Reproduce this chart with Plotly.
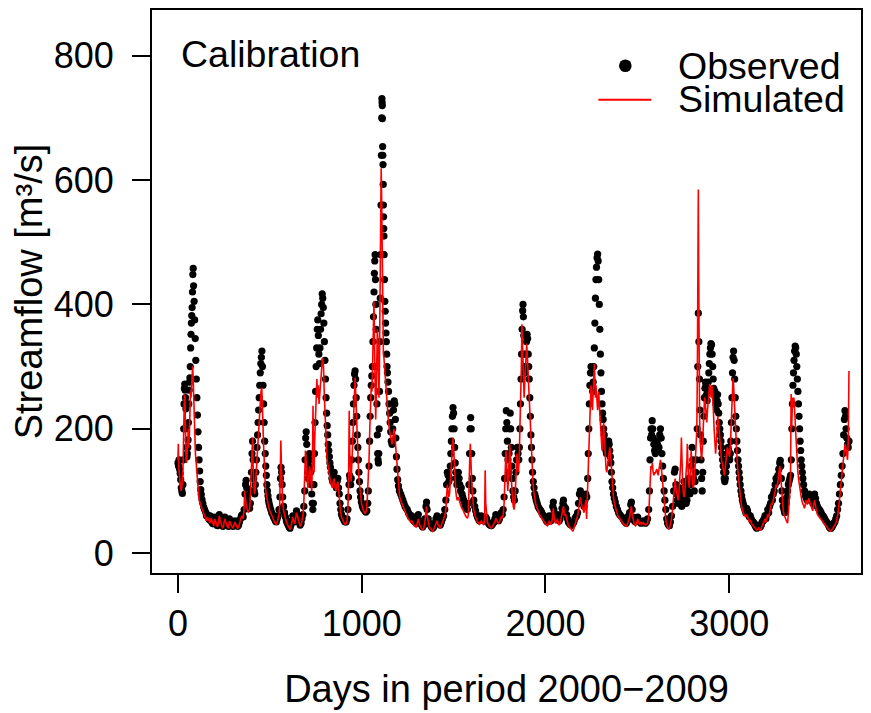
import plotly.graph_objects as go

# Observed daily streamflow (day index, m3/s)
observed = [
 (0,145),(3,140),(6,150),(9,135),(12,128),(15,118),(18,105),(21,100),(24,96),(27,110),(29,150),(31,200),(33,240),(35,265),(37,272),(39,262),(41,250),(43,232),(45,200),(47,170),(49,155),(51,160),(53,170),(55,182),(57,210),(59,240),(61,262),(63,275),(65,282),(67,300),(69,330),(71,352),(73,370),(75,382),(77,395),(79,420),(81,448),(83,458),(85,430),(88,405),(91,375),(94,345),(97,310),(100,280),(103,250),(106,222),(109,195),(112,170),(115,150),(118,132),(121,115),(124,102),(127,94),(131,86),
 (135,80),(140,74),(145,70),(150,66),(155,60),(160,62),(165,57),(170,54),(175,60),(180,52),(185,49),(190,47),(195,55),(200,58),(205,50),(210,46),(215,44),(220,50),(225,62),(230,55),(235,48),(240,45),(245,43),(250,50),(255,58),(260,52),(265,47),(270,45),(275,43),(280,55),(285,50),(290,47),(295,44),(300,43),(305,47),(310,52),(315,48),(320,45),(325,43),(330,45),(335,50),(340,55),(345,60),(350,62),(355,58),(360,70),
 (365,95),(368,110),(371,117),(374,105),(378,90),(382,80),(386,75),(390,72),(394,80),(397,100),(400,130),(403,160),(406,180),(409,150),(412,120),(415,100),(418,95),(421,110),(424,130),(427,150),(430,170),(433,190),(436,210),(439,230),(442,250),(445,270),(448,290),(451,305),(454,315),(457,325),(460,300),(463,270),(466,240),(469,210),(472,180),(475,160),(478,140),(481,125),(484,110),(487,100),(490,92),(493,85),(496,80),(500,75),(505,70),(510,65),
 (515,62),(520,58),(525,55),(530,52),(535,50),(540,55),(545,60),(550,70),(555,90),(558,120),(561,138),(564,130),(567,110),(570,90),(575,75),(580,65),(585,58),(590,52),(595,48),(600,45),(605,42),(610,40),(615,45),(620,52),(625,60),(630,55),(635,50),(640,60),(645,68),(650,62),(655,55),(660,50),(665,45),(670,48),(675,55),(680,62),(685,75),
 (690,100),(692,150),(695,185),(698,195),(701,175),(704,150),(707,130),(710,120),(713,140),(716,160),(719,150),(722,130),(725,110),(728,95),(731,80),(734,70),(737,80),(740,110),(743,160),(746,210),(749,260),(752,300),(755,330),(758,360),(761,375),(764,350),(767,320),(770,305),(773,330),(776,360),(779,385),(782,400),(785,417),(788,410),(791,395),(794,370),(797,340),(800,310),(803,280),(806,250),(809,225),(812,205),(815,190),(818,175),(821,165),(824,155),(827,145),(830,138),
 (834,130),(838,120),(842,115),(846,125),(850,130),(854,120),(858,110),(862,105),(866,115),(870,120),(874,105),(878,95),(882,80),(886,70),(890,62),(895,58),(900,55),(905,52),(910,50),(915,50),(920,55),(925,70),(928,90),(931,110),(934,125),(937,120),(940,110),(943,120),(946,150),(949,180),(952,210),(955,240),(958,270),(961,288),(964,293),(967,280),(970,250),(973,220),(976,190),(979,170),(982,150),(985,130),(988,115),(991,100),(994,90),(998,82),(1003,76),(1008,72),(1013,70),(1018,68),(1023,66),(1028,68),(1033,80),
 (1036,100),(1040,140),(1043,180),(1046,220),(1049,250),(1052,270),(1055,285),(1058,300),(1061,340),(1064,380),(1067,420),(1069,450),(1071,470),(1073,480),(1075,440),(1077,400),(1079,360),(1081,300),(1083,240),(1085,190),(1087,160),(1089,150),(1091,145),(1093,160),(1095,200),(1097,260),(1099,340),(1101,410),(1103,480),(1105,560),(1107,640),(1109,700),(1110,731),(1111,725),(1112,720),(1113,699),(1114,654),(1115,640),(1116,625),(1117,593),(1118,560),(1119,541),(1120,522),(1121,510),(1122,480),(1124,440),(1126,405),(1128,389),(1130,370),(1132,354),(1134,340),(1136,320),(1138,300),(1140,290),(1143,275),(1146,260),(1149,240),(1152,225),(1155,210),(1158,195),(1161,180),(1165,175),(1169,200),(1173,230),(1177,245),(1180,240),(1183,215),(1186,185),(1189,155),(1192,135),(1196,118),(1200,108),(1205,100),
 (1212,95),(1218,90),(1224,85),(1230,80),(1236,75),(1242,72),(1248,70),(1254,65),(1260,62),(1266,58),(1272,60),(1278,55),(1284,52),(1290,50),(1296,48),(1302,55),(1308,62),(1314,52),(1320,48),(1326,45),(1332,42),(1338,45),(1344,55),(1350,75),(1353,82),(1356,70),(1362,55),(1368,48),(1374,45),(1380,42),(1386,40),(1392,42),(1398,48),(1404,55),(1410,60),(1416,52),(1422,48),(1428,45),(1434,50),(1440,55),(1446,60),(1452,70),
 (1458,85),(1462,110),(1466,130),(1470,125),(1474,115),(1478,120),(1482,140),(1485,160),(1488,180),(1491,200),(1494,220),(1497,234),(1500,225),(1503,200),(1506,170),(1509,145),(1512,130),(1515,120),(1518,110),(1522,115),(1526,130),(1530,120),(1534,110),(1538,100),(1542,105),(1546,95),(1550,90),(1555,85),(1560,80),(1565,75),(1570,72),(1575,70),
 (1580,80),(1584,110),(1587,160),(1590,200),(1593,218),(1596,200),(1599,160),(1602,120),(1605,100),(1610,85),(1615,75),(1620,68),(1625,62),(1630,58),(1635,55),(1640,52),(1645,55),(1650,60),(1655,58),(1660,55),(1665,52),(1670,55),(1675,58),(1680,55),(1685,50),(1690,48),(1695,46),(1700,45),(1705,44),(1710,46),(1715,48),(1720,50),(1725,55),(1730,62),(1735,58),(1740,55),(1745,52),(1750,55),(1755,60),(1760,65),(1765,62),(1770,70),(1775,90),
 (1778,120),(1781,160),(1784,200),(1787,229),(1790,210),(1793,180),(1796,150),(1799,130),(1802,160),(1805,200),(1808,225),(1811,200),(1814,170),(1817,140),(1820,120),(1823,100),(1827,90),(1831,85),(1835,100),(1839,130),(1843,150),(1847,170),(1851,160),(1855,150),(1858,170),(1861,200),(1864,240),(1867,280),(1870,320),(1873,360),(1876,390),(1878,400),(1880,380),(1882,350),(1884,320),(1886,300),(1888,290),(1891,300),(1894,320),(1897,340),(1900,352),(1903,345),(1906,320),(1909,300),(1912,280),(1915,250),(1918,220),(1921,190),(1924,170),(1927,150),(1930,130),(1934,115),(1938,105),(1942,95),(1946,90),(1950,85),(1955,80),(1960,75),(1965,72),(1970,70),(1975,68),(1980,65),
 (1985,62),(1990,60),(1995,58),(2000,55),(2005,52),(2010,50),(2015,55),(2020,60),(2025,55),(2030,52),(2035,60),(2040,75),(2043,82),(2046,70),(2050,60),(2055,55),(2060,58),(2065,62),(2070,55),(2075,52),(2080,55),(2085,62),(2090,72),(2095,80),(2098,85),(2102,75),(2106,70),(2110,72),(2115,62),(2120,55),(2125,50),(2130,48),(2135,46),(2140,45),(2145,45),(2150,48),(2155,50),(2160,55),(2165,58),
 (2170,60),(2175,65),(2180,80),(2185,95),(2190,100),(2195,90),(2200,85),(2205,80),(2210,75),(2215,85),(2220,95),(2225,90),(2230,120),(2233,160),(2236,200),(2239,240),(2242,270),(2245,290),(2248,300),(2251,290),(2254,270),(2257,260),(2260,275),(2263,300),(2266,330),(2269,370),(2272,410),(2275,440),(2278,460),(2281,475),(2284,481),(2287,470),(2290,440),(2293,400),(2296,360),(2299,320),(2302,290),(2305,260),(2308,240),(2311,225),(2314,215),(2317,200),(2320,190),(2323,180),(2326,170),(2329,165),(2332,160),(2335,165),(2338,170),(2341,175),(2344,180),(2347,175),(2350,165),(2353,155),(2356,145),(2359,130),(2362,115),(2366,105),(2370,95),(2375,88),(2380,82),(2386,75),(2392,70),(2398,65),(2404,62),(2410,60),(2416,58),(2422,55),(2428,52),
 (2434,50),(2440,48),(2446,52),(2452,60),(2458,65),(2464,78),(2468,82),(2472,70),(2478,58),(2484,52),(2490,50),(2496,55),(2502,58),(2508,52),(2514,50),(2520,48),(2526,50),(2532,52),(2538,50),(2544,48),(2550,50),(2556,55),(2562,70),
 (2566,100),(2569,150),(2572,185),(2575,200),(2578,190),(2581,213),(2584,200),(2587,185),(2590,175),(2594,165),(2598,160),(2602,170),(2606,180),(2610,175),(2614,165),(2618,170),(2622,190),(2626,200),(2630,185),(2634,160),(2638,140),(2642,120),(2646,100),(2650,85),(2655,70),(2660,55),(2665,48),(2670,45),(2675,44),
 (2680,50),(2686,60),(2692,75),(2698,100),(2702,130),(2706,135),(2710,110),(2714,95),(2718,85),(2722,80),(2726,90),(2730,105),(2734,95),(2738,80),(2742,75),(2746,85),(2750,100),(2754,115),(2758,105),(2762,90),(2766,80),(2770,85),(2774,100),(2778,120),(2782,110),(2786,95),(2790,110),(2794,140),(2798,170),(2802,150),(2806,120),(2810,100),(2814,115),(2818,130),(2822,150),
 (2826,200),(2829,300),(2832,386),(2835,340),(2838,280),(2841,230),(2844,190),(2847,150),(2850,120),(2853,100),(2856,130),(2859,180),(2862,220),(2865,250),(2868,265),(2871,275),(2874,270),(2877,255),(2880,245),(2883,260),(2886,275),(2889,290),(2892,305),(2895,320),(2898,330),(2901,337),(2904,335),(2907,320),(2910,300),(2913,280),(2916,265),(2919,255),(2922,260),(2925,250),(2928,240),(2931,230),(2934,245),(2937,255),(2940,240),(2943,225),(2946,210),(2949,200),(2952,190),(2955,180),(2958,170),(2961,160),(2964,150),(2967,140),(2970,130),(2973,120),(2976,115),(2979,120),(2982,130),(2985,140),(2988,150),(2991,160),(2994,170),(2997,165),(3000,155),(3003,150),(3006,160),(3009,180),(3012,210),(3015,250),(3018,290),(3021,315),(3024,325),(3027,310),(3030,280),(3033,250),(3036,220),(3039,200),(3042,180),(3045,165),(3048,150),(3051,140),(3054,130),(3057,120),(3060,110),(3064,100),(3068,92),(3072,85),(3076,80),(3080,75),
 (3085,70),(3090,65),(3095,72),(3100,68),(3105,62),(3110,58),(3115,60),(3120,55),(3125,52),(3130,50),(3135,48),(3140,45),(3145,42),(3150,40),(3155,42),(3160,45),(3165,43),(3170,42),(3175,45),(3180,50),(3185,52),(3190,55),(3195,60),(3200,55),(3205,62),(3210,70),(3215,65),(3220,75),(3225,80),(3230,90),(3235,85),(3240,95),(3245,100),(3250,110),(3255,120),(3260,115),(3265,125),(3270,135),(3275,145),(3278,149),(3281,140),(3284,120),(3287,100),(3290,85),(3294,75),(3298,70),(3302,65),(3306,70),(3310,80),(3314,90),
 (3318,100),(3322,110),(3326,115),(3330,120),(3334,125),(3338,150),(3341,200),(3344,240),(3347,270),(3350,290),(3353,310),(3356,325),(3359,333),(3362,330),(3365,320),(3368,300),(3371,280),(3374,260),(3377,240),(3380,220),(3383,200),(3386,180),(3389,165),(3392,150),(3395,140),(3398,130),(3401,120),(3405,110),(3410,100),(3415,92),
 (3420,88),(3425,85),(3430,90),(3435,95),(3440,92),(3445,88),(3450,85),(3455,80),(3460,90),(3465,95),(3470,88),(3475,80),(3480,75),(3485,72),(3490,70),(3495,68),(3500,65),(3505,62),(3510,60),(3515,58),(3520,55),(3525,52),(3530,50),(3535,48),(3540,45),(3545,42),(3550,40),(3555,40),(3560,42),(3565,45),(3570,48),(3575,50),(3580,55),(3585,60),(3590,70),(3595,80),(3600,95),(3605,110),(3610,125),(3615,140),(3619,160),(3623,190),(3627,215),(3630,229),(3633,220),(3636,200),(3640,185),(3644,175),(3648,170),(3652,180),
]

# Simulated streamflow (day index, m3/s)
simulated = [
 (0,150),(2,176),(4,140),(7,125),(10,115),(14,105),(18,100),(22,110),(26,120),(29,160),(32,230),(35,255),(38,250),(41,160),(44,150),(47,145),(50,155),(53,175),(56,200),(59,170),(62,190),(65,230),(68,260),(71,250),(74,265),(77,290),(80,301),(83,280),(86,240),(89,200),(92,175),(95,160),(98,150),(101,135),(104,120),(108,105),(112,95),(116,85),(120,80),(125,75),(130,72),
 (135,68),(140,62),(145,60),(150,56),(155,52),(160,58),(165,55),(170,50),(175,48),(180,56),(185,52),(190,46),(195,44),(200,55),(205,50),(210,45),(215,42),(220,48),(225,60),(230,52),(235,46),(240,42),(245,40),(250,47),(255,55),(260,50),(265,45),(270,42),(275,40),(280,52),(285,48),(290,44),(295,42),(300,40),(305,44),(310,50),(315,46),(320,42),(325,40),(330,42),(335,48),(340,54),(345,58),(350,60),(355,55),(360,72),
 (363,100),(366,90),(370,80),(374,75),(378,70),(382,65),(386,68),(390,70),(394,90),(398,120),(402,170),(406,186),(409,140),(412,110),(416,95),(420,100),(424,120),(428,140),(432,165),(436,190),(440,210),(444,230),(448,250),(452,260),(456,266),(459,250),(462,215),(465,180),(468,150),(472,125),(476,105),(480,95),(485,85),(490,78),(495,72),(500,68),(505,64),(510,60),
 (515,56),(520,53),(525,50),(530,48),(535,46),(540,50),(545,55),(550,62),(554,80),(557,120),(560,181),(563,140),(566,100),(570,80),(575,68),(580,60),(585,54),(590,50),(595,46),(600,43),(605,40),(610,38),(615,42),(620,50),(625,58),(630,52),(635,47),(640,55),(645,65),(650,60),(655,52),(660,48),(665,43),(670,45),(675,52),(680,60),
 (685,80),(688,110),(691,140),(694,165),(697,150),(700,130),(704,115),(708,105),(712,120),(716,140),(720,130),(724,110),(728,100),(732,150),(735,237),(738,160),(741,130),(744,180),(748,220),(752,260),(756,280),(760,250),(764,270),(768,240),(772,260),(776,280),(780,295),(784,305),(788,314),(792,300),(796,260),(800,220),(804,190),(808,170),(812,150),(816,140),(820,130),(825,120),(830,115),
 (835,110),(840,105),(845,115),(850,120),(855,105),(860,100),(865,110),(870,115),(875,100),(880,80),(885,65),(890,58),(895,54),(900,50),(905,48),(910,46),(915,47),(920,52),(925,70),(929,130),(932,229),(935,160),(938,120),(942,115),(946,140),(950,170),(954,210),(958,250),(961,275),(964,282),(967,260),(970,230),(973,200),(976,170),(980,145),(984,125),(988,110),(992,95),(996,85),(1000,78),(1005,72),(1010,68),(1015,65),(1020,64),(1025,68),
 (1030,85),(1035,110),(1040,150),(1044,200),(1048,240),(1052,270),(1056,260),(1060,300),(1064,360),(1067,405),(1070,330),(1073,260),(1076,215),(1079,250),(1082,300),(1085,360),(1088,340),(1091,300),(1094,250),(1097,320),(1100,450),(1103,560),(1106,619),(1109,560),(1112,450),(1115,336),(1118,320),(1121,314),(1124,300),(1128,280),(1132,260),(1136,245),(1140,230),(1145,215),(1150,200),(1155,190),(1160,180),(1165,175),(1170,185),(1175,200),(1180,190),(1185,170),(1190,140),(1195,120),(1200,105),(1206,92),(1212,85),
 (1218,80),(1224,75),(1230,70),(1236,66),(1242,62),(1248,58),(1254,55),(1260,52),(1266,50),(1272,52),(1278,48),(1284,45),(1290,43),(1296,42),(1302,48),(1308,55),(1314,46),(1320,42),(1326,40),(1332,38),(1338,40),(1344,50),(1350,68),(1353,75),(1356,60),(1362,48),(1368,42),(1374,40),(1380,37),(1386,35),(1392,38),(1398,42),(1404,48),(1410,52),(1416,45),(1422,42),(1428,40),(1434,45),(1440,50),(1446,55),(1452,60),
 (1458,70),(1462,95),(1466,110),(1470,100),(1474,90),(1478,95),(1482,110),(1486,130),(1490,150),(1494,175),(1497,186),(1500,170),(1504,140),(1508,115),(1512,100),(1516,90),(1520,85),(1525,90),(1530,85),(1535,80),(1540,75),(1545,72),(1550,70),(1555,66),(1560,62),(1565,60),(1570,58),(1575,56),
 (1580,60),(1584,90),(1588,150),(1591,176),(1594,160),(1598,120),(1602,95),(1606,80),(1610,70),(1615,62),(1620,57),(1625,54),(1630,50),(1635,48),(1640,46),(1645,48),(1650,52),(1655,50),(1660,48),(1665,45),(1669,60),(1672,133),(1675,80),(1679,60),(1684,50),(1690,45),(1695,43),(1700,42),(1705,40),(1710,42),(1715,44),(1720,46),(1725,50),(1730,56),(1735,52),(1740,50),(1745,48),(1750,50),(1755,55),(1760,58),(1765,56),(1770,62),
 (1775,80),(1779,120),(1782,150),(1785,165),(1788,150),(1791,120),(1795,100),(1799,120),(1803,160),(1806,175),(1809,150),(1813,120),(1817,100),(1821,85),(1825,75),(1829,70),(1833,80),(1837,110),(1841,140),(1845,160),(1849,140),(1853,130),(1857,150),(1861,190),(1865,240),(1869,300),(1872,368),(1875,330),(1878,280),(1881,260),(1884,250),(1887,270),(1891,300),(1895,330),(1898,337),(1901,320),(1905,290),(1909,260),(1913,230),(1917,200),(1921,170),(1925,145),(1929,125),(1933,110),(1937,98),(1941,88),(1946,80),(1951,75),(1956,70),(1961,66),(1966,63),(1971,60),(1976,58),(1981,55),
 (1986,53),(1991,50),(1996,48),(2001,46),(2006,45),(2011,44),(2016,48),(2021,52),(2026,48),(2031,46),(2036,52),(2040,65),(2043,72),(2046,60),(2050,52),(2055,48),(2060,50),(2065,55),(2070,48),(2075,45),(2080,48),(2085,55),(2090,62),(2095,70),(2098,75),(2102,66),(2106,60),(2110,62),(2115,54),(2120,48),(2125,44),(2130,42),(2135,40),(2140,38),(2145,36),(2150,35),(2155,40),(2160,45),(2165,50),
 (2170,55),(2175,60),(2180,70),(2185,85),(2190,90),(2195,80),(2200,75),(2205,70),(2210,65),(2215,75),(2220,85),(2224,55),(2228,90),(2232,140),(2236,180),(2240,220),(2244,250),(2248,270),(2252,255),(2256,230),(2260,260),(2264,290),(2266,304),(2269,280),(2272,250),(2275,270),(2278,260),(2281,240),(2284,230),(2287,250),(2290,260),(2293,240),(2296,220),(2299,200),(2302,185),(2305,175),(2308,165),(2311,180),(2314,200),(2317,210),(2320,190),(2323,170),(2326,150),(2330,135),(2334,130),(2338,140),(2342,155),(2346,165),(2350,170),(2354,160),(2358,140),(2362,115),(2366,100),(2370,90),(2375,80),(2380,74),(2386,68),(2392,62),(2398,58),(2404,55),(2410,52),(2416,50),(2422,48),(2428,46),
 (2434,45),(2440,43),(2446,46),(2452,52),(2458,58),(2464,70),(2468,75),(2472,62),(2478,52),(2484,46),(2490,44),(2496,48),(2502,55),(2508,48),(2514,46),(2520,50),(2526,47),(2532,49),(2538,46),(2544,45),(2550,46),(2556,48),(2562,60),
 (2566,90),(2570,120),(2574,140),(2578,135),(2582,145),(2586,130),(2590,125),(2594,130),(2598,128),(2602,132),(2606,135),(2610,130),(2614,125),(2618,135),(2622,145),(2626,150),(2630,140),(2634,125),(2638,110),(2642,95),(2646,80),(2650,68),(2655,55),(2660,45),(2665,40),(2670,38),(2675,40),
 (2680,45),(2686,55),(2692,70),(2698,90),(2702,110),(2706,120),(2710,105),(2714,95),(2718,90),(2722,85),(2726,95),(2730,110),(2734,125),(2737,150),(2740,186),(2743,140),(2747,110),(2751,95),(2755,90),(2759,100),(2763,115),(2767,130),(2770,150),(2772,176),(2775,140),(2779,115),(2783,105),(2787,120),(2790,140),(2793,165),(2796,135),(2800,115),(2804,105),(2808,110),(2812,125),(2816,150),(2820,170),(2824,200),
 (2827,300),(2830,500),(2832,585),(2834,450),(2836,300),(2839,220),(2842,180),(2846,160),(2850,150),(2854,170),(2858,200),(2862,230),(2866,250),(2870,240),(2874,220),(2878,210),(2882,230),(2886,250),(2890,262),(2894,272),(2898,265),(2902,250),(2906,270),(2910,255),(2914,230),(2918,200),(2922,175),(2926,160),(2930,175),(2934,200),(2938,220),(2942,210),(2946,190),(2950,175),(2954,160),(2958,150),(2962,145),(2966,140),(2970,130),(2974,125),(2978,135),(2982,150),(2986,160),(2990,170),(2994,165),(2998,160),(3002,155),(3006,170),(3010,200),(3014,240),(3018,270),(3021,281),(3024,270),(3028,240),(3032,210),(3036,185),(3040,165),(3044,145),(3048,130),(3052,115),(3056,100),(3060,90),(3065,80),(3070,72),(3075,66),
 (3080,62),(3085,60),(3090,58),(3095,62),(3100,58),(3105,54),(3110,50),(3115,52),(3120,48),(3125,46),(3130,44),(3135,42),(3140,40),(3145,38),(3150,37),(3155,38),(3160,40),(3165,38),(3170,37),(3175,40),(3180,45),(3185,48),(3190,50),(3195,55),(3200,50),(3205,55),(3210,62),(3215,58),(3220,68),(3225,72),(3230,80),(3235,78),(3240,85),(3245,90),(3250,100),(3255,110),(3260,105),(3265,115),(3270,125),(3275,140),(3278,135),(3282,115),(3286,95),(3290,80),(3294,70),(3298,62),(3302,58),(3306,55),(3310,52),(3314,50),(3318,48),
 (3322,60),(3326,80),(3330,100),(3334,130),(3337,256),(3340,200),(3343,230),(3346,250),(3349,245),(3352,250),(3355,240),(3358,220),(3361,200),(3364,180),(3367,160),(3370,145),(3374,130),(3378,118),(3382,108),(3386,100),(3390,92),(3395,85),(3400,80),(3405,76),(3410,72),(3415,80),
 (3420,85),(3425,78),(3430,82),(3435,88),(3440,80),(3445,75),(3450,70),(3455,68),(3460,78),(3465,85),(3470,75),(3475,68),(3480,62),(3485,60),(3490,58),(3495,56),(3500,54),(3505,52),(3510,50),(3515,48),(3520,46),(3525,44),(3530,42),(3535,40),(3540,38),(3545,36),(3550,35),(3555,36),(3560,38),(3565,40),(3570,42),(3575,45),(3580,48),(3585,52),(3590,60),(3595,70),(3600,85),(3605,100),(3610,115),(3615,125),(3620,140),(3625,160),(3630,175),(3635,170),(3640,160),(3644,150),(3648,180),(3652,293),
]

x_ticks = [0, 1000, 2000, 3000]
y_ticks = [0, 200, 400, 600, 800]
x_title = "Days in period 2000\u22122009"
y_title = "Streamflow [m\u00b3/s]"
panel_label = "Calibration"
legend_labels = ["Observed", "Simulated"]

obs_x = [d for d, v in observed]
obs_y = [v for d, v in observed]
sim_x = [d for d, v in simulated]
sim_y = [v for d, v in simulated]

W, H = 871, 713
L, R, T, B = 152, 9, 8, 140
FONT = "Liberation Sans, Arial, sans-serif"
FS_TICK = 36
FS_TEXT = 37.5
FS_TITLE = 38

def px(x, y):
    return (x - L) / (W - L - R), (H - B - y) / (H - T - B)

fig = go.Figure()
fig.add_trace(go.Scatter(x=obs_x, y=obs_y, mode="markers",
                         marker=dict(color="black", size=7.2, line=dict(width=0)),
                         name=legend_labels[0], showlegend=False))
fig.add_trace(go.Scatter(x=sim_x, y=sim_y, mode="lines",
                         line=dict(color="#ff0000", width=1.6),
                         name=legend_labels[1], showlegend=False))

# manual legend (R-style)
r = 6.3
x0, y0 = px(626 - r, 64 + r)
x1, y1 = px(626 + r, 64 - r)
fig.add_shape(type="circle", xref="paper", yref="paper", x0=x0, y0=y0, x1=x1, y1=y1,
              fillcolor="black", line=dict(width=0))
lx0, ly = px(599, 98)
lx1, _ = px(652, 98)
fig.add_shape(type="line", xref="paper", yref="paper", x0=lx0, y0=ly, x1=lx1, y1=ly,
              line=dict(color="#ff0000", width=2))
for lab, yy in zip(legend_labels, [64, 97]):
    ax, ay = px(677, yy)
    fig.add_annotation(x=ax, y=ay, xref="paper", yref="paper", text=lab, showarrow=False,
                       xanchor="left", yanchor="middle",
                       font=dict(family=FONT, size=FS_TEXT, color="black"))
cx, cy = px(179, 52)
fig.add_annotation(x=cx, y=cy, xref="paper", yref="paper", text=panel_label, showarrow=False,
                   xanchor="left", yanchor="middle",
                   font=dict(family=FONT, size=FS_TEXT, color="black"))

fig.update_layout(
    width=W, height=H, margin=dict(l=L, r=R, t=T, b=B, pad=0),
    paper_bgcolor="white", plot_bgcolor="white",
    font=dict(family=FONT, size=FS_TICK, color="black"),
    showlegend=False,
    xaxis=dict(range=[-141.3, 3717.4], tickvals=x_ticks, ticks="outside", ticklen=18, tickwidth=1.5,
               tickcolor="black", showline=True, mirror=True, linecolor="black", linewidth=1.8,
               showgrid=False, zeroline=False, ticklabelstandoff=0,
               title=dict(text=x_title, font=dict(size=FS_TITLE), standoff=32)),
    yaxis=dict(range=[-32.1, 873.7], tickvals=y_ticks, ticks="outside", ticklen=18, tickwidth=1.5,
               tickcolor="black", showline=True, mirror=True, linecolor="black", linewidth=1.8,
               showgrid=False, zeroline=False, ticklabelstandoff=11,
               title=dict(text=y_title, font=dict(size=FS_TITLE), standoff=0)),
)

fig.write_html("out.html")
